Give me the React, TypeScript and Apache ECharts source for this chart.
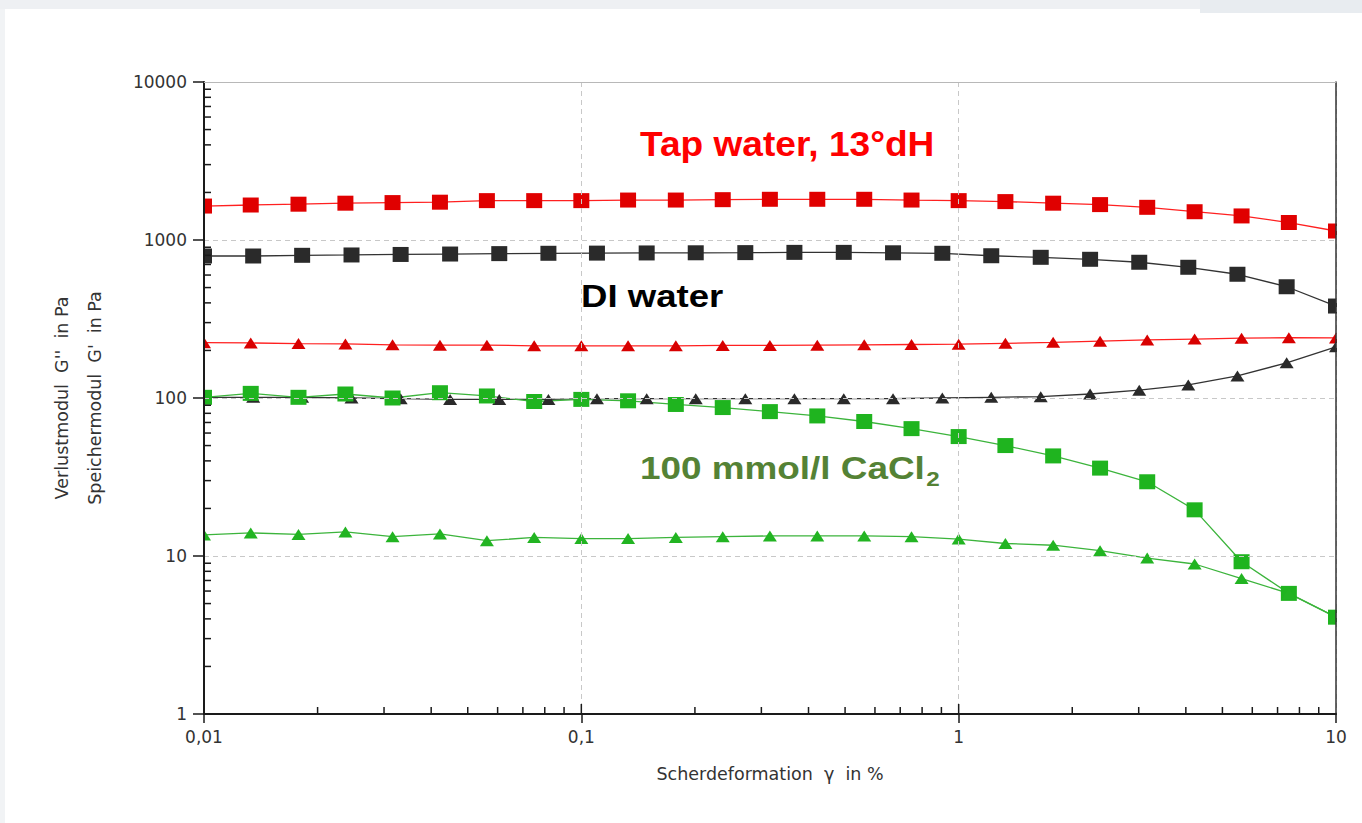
import React, { useEffect, useRef } from "react";
import * as echarts from "echarts";

// strain values (%) – 8 points per decade for tap water and CaCl2 series
const xDense = [0.01, 0.0133, 0.0178, 0.0237, 0.0316, 0.0422, 0.0562, 0.075, 0.1, 0.133, 0.178, 0.237, 0.316, 0.422, 0.562, 0.75, 1, 1.33, 1.78, 2.37, 3.16, 4.22, 5.62, 7.5, 10];
// strain values (%) for DI water series (24 points)
const xDI = [0.01, 0.0135, 0.0182, 0.0246, 0.0332, 0.0449, 0.0606, 0.0818, 0.11, 0.149, 0.201, 0.272, 0.367, 0.496, 0.67, 0.905, 1.22, 1.65, 2.23, 3.01, 4.06, 5.48, 7.4, 10];

// Tap water (red)
const tapStorage = [1640, 1665, 1685, 1710, 1725, 1735, 1775, 1775, 1775, 1790, 1790, 1800, 1810, 1810, 1810, 1790, 1775, 1750, 1710, 1675, 1610, 1510, 1420, 1290, 1140];
const tapLoss = [224, 223, 221, 220, 217, 216, 216, 214, 214, 214, 214, 215, 215, 216, 217, 218, 219, 222, 225, 229, 233, 236, 239, 241, 240];
// DI water (black)
const diStorage = [792, 792, 800, 804, 810, 815, 820, 824, 826, 828, 830, 832, 835, 835, 830, 824, 795, 777, 755, 723, 672, 607, 506, 382];
const diLoss = [101, 101, 101, 100, 99, 98, 98, 98, 99, 99, 99, 99, 99, 99, 99, 100, 101, 102, 106, 112, 121, 138, 167, 211];
// 100 mmol/l CaCl2 (green)
const caStorage = [101, 107, 101, 106, 100, 108, 103, 95, 98, 96, 91, 87, 82, 77, 71, 64, 57, 50, 43, 36, 29.5, 19.6, 9.2, 5.8, 4.1];
const caLoss = [13.6, 14.0, 13.7, 14.2, 13.25, 13.8, 12.5, 13.1, 12.9, 12.9, 13.1, 13.25, 13.4, 13.4, 13.4, 13.25, 12.8, 12.0, 11.7, 10.8, 9.7, 8.9, 7.2, 5.8, 4.1];

// tick labels
const xTickLabels = ["0,01", "0,1", "1", "10"];
const yTickLabels = ["1", "10", "100", "1000", "10000"];
const minorSteps = [2, 3, 4, 5, 6, 7, 8, 9];
const xDecades = [0.01, 0.1, 1];
const yDecades = [1, 10, 100, 1000];
const xInnerMajors = [0.1, 1];

const AXIS_FONT = "DejaVu Sans";
const LABEL_FONT = "Liberation Sans";

function pair(xs: number[], ys: number[]) {
  return xs.map((x, i) => [x, ys[i]]);
}

function lineSeries(name: string, xs: number[], ys: number[], marker: string, line: string, symbol: string, size: number[]) {
  return {
    name,
    type: "line",
    data: pair(xs, ys),
    symbol,
    symbolSize: size,
    showSymbol: true,
    silent: true,
    z: 2,
    lineStyle: { color: line, width: 1.3 },
    itemStyle: { color: marker, borderWidth: 0 },
  };
}

function buildOption() {
  const xMinor = xDecades.flatMap((d) => minorSteps.map((m) => [d * m, 1, 7]));
  const xMajor = xInnerMajors.map((v) => [v, 1, 10]);
  const yMinor = yDecades.flatMap((d) => minorSteps.map((m) => [0.01, d * m, 7]));

  return {
    animation: false,
    backgroundColor: "#ffffff",
    grid: { left: 204, right: 26, top: 82, bottom: 109, outerBoundsMode: "none" },
    xAxis: [
      {
        type: "log",
        min: 0.01,
        max: 10,
        z: 5,
        name: "Scherdeformation  γ  in %",
        nameLocation: "middle",
        nameGap: 51,
        nameTextStyle: { fontFamily: AXIS_FONT, fontSize: 17.5, color: "#333" },
        axisLine: { show: true, lineStyle: { color: "#1a1a1a", width: 2 } },
        axisTick: { show: true, inside: false, length: 9, lineStyle: { color: "#1a1a1a", width: 1.5 } },
        minorTick: { show: false },
        axisLabel: {
          margin: 14,
          fontFamily: AXIS_FONT,
          fontSize: 17,
          color: "#333",
          formatter: (v: number) => xTickLabels[Math.round(Math.log10(v)) + 2] ?? "",
        },
        splitLine: { show: true, lineStyle: { color: "#c8c8c8", type: [5, 4], width: 1 } },
      },
      {
        type: "log",
        min: 0.01,
        max: 10,
        position: "top",
        z: 5,
        axisLine: { show: true, lineStyle: { color: "#b8b8b8", width: 1 } },
        axisTick: { show: false },
        axisLabel: { show: false },
        splitLine: { show: false },
      },
    ],
    yAxis: [
      {
        type: "log",
        min: 1,
        max: 10000,
        z: 5,
        name: "Verlustmodul  G''  in Pa\nSpeichermodul  G'  in Pa",
        nameLocation: "middle",
        nameRotate: 90,
        nameGap: 93,
        nameTextStyle: { fontFamily: AXIS_FONT, fontSize: 17.5, color: "#333", lineHeight: 33 },
        axisLine: { show: true, lineStyle: { color: "#1a1a1a", width: 2 } },
        axisTick: { show: true, inside: false, length: 11, lineStyle: { color: "#1a1a1a", width: 1.5 } },
        axisLabel: {
          margin: 17,
          fontFamily: AXIS_FONT,
          fontSize: 17,
          color: "#333",
          formatter: (v: number) => yTickLabels[Math.round(Math.log10(v))] ?? "",
        },
        splitLine: { show: true, lineStyle: { color: "#c8c8c8", type: [5, 4], width: 1 } },
      },
      {
        type: "log",
        min: 1,
        max: 10000,
        position: "right",
        z: 5,
        axisLine: { show: true, lineStyle: { color: "#333", width: 1.5 } },
        axisTick: { show: false },
        axisLabel: { show: false },
        splitLine: { show: false },
      },
    ],
    graphic: [
      { type: "rect", z: -1, shape: { x: 0, y: 0, width: 1362, height: 9 }, style: { fill: "#eef0f3" } },
      { type: "rect", z: -1, shape: { x: 1200, y: 0, width: 162, height: 13 }, style: { fill: "#e8ecf0" } },
      { type: "rect", z: -1, shape: { x: 0, y: 9, width: 5, height: 814 }, style: { fill: "#f1f3f5" } },
      // cover marker halves outside plot area
      { type: "rect", z: 3, shape: { x: 186, y: 70, width: 17, height: 640 }, style: { fill: "#ffffff" } },
      { type: "rect", z: 3, shape: { x: 1337, y: 70, width: 25, height: 640 }, style: { fill: "#ffffff" } },
      {
        type: "text",
        z: 10,
        x: 640,
        y: 144,
        scaleX: 1.06,
        style: {
          text: "Tap water, 13°dH",
          fill: "#ff0000",
          fontFamily: LABEL_FONT,
          fontWeight: "bold",
          fontSize: 35,
          align: "left",
          verticalAlign: "middle",
        },
      },
      {
        type: "text",
        z: 10,
        x: 581,
        y: 296,
        scaleX: 1.18,
        style: {
          text: "DI water",
          fill: "#000000",
          fontFamily: LABEL_FONT,
          fontWeight: "bold",
          fontSize: 31,
          align: "left",
          verticalAlign: "middle",
        },
      },
      {
        type: "text",
        z: 10,
        x: 640,
        y: 468,
        scaleX: 1.153,
        style: {
          text: "{m|100 mmol/l CaCl}{s|2}",
          align: "left",
          verticalAlign: "middle",
          rich: {
            m: { fill: "#548235", fontFamily: LABEL_FONT, fontWeight: "bold", fontSize: 32, lineHeight: 32 },
            s: { fill: "#548235", fontFamily: LABEL_FONT, fontWeight: "bold", fontSize: 21, padding: [22, 0, 0, 1] },
          },
        },
      },
    ],
    series: [
      lineSeries("Tap water G'", xDense, tapStorage, "#e00000", "#ff2020", "rect", [16, 15]),
      lineSeries("DI water G'", xDI, diStorage, "#2a2a2a", "#333333", "rect", [16, 15]),
      lineSeries("Tap water G''", xDense, tapLoss, "#d80000", "#ff2020", "triangle", [14, 11]),
      lineSeries("DI water G''", xDI, diLoss, "#2a2a2a", "#333333", "triangle", [14, 11]),
      lineSeries("CaCl2 G'", xDense, caStorage, "#1fb41f", "#3cb43c", "rect", [16, 15]),
      lineSeries("CaCl2 G''", xDense, caLoss, "#22b422", "#3cb43c", "triangle", [14, 11]),
      {
        type: "custom",
        coordinateSystem: "cartesian2d",
        silent: true,
        z: 6,
        data: [...xMinor, ...xMajor],
        renderItem: (params: any, api: any) => {
          const p = api.coord([api.value(0), api.value(1)]);
          const len = api.value(2);
          return {
            type: "line",
            shape: { x1: p[0], y1: p[1], x2: p[0], y2: p[1] - len },
            style: { stroke: "#1a1a1a", lineWidth: 1.5 },
          };
        },
      },
      {
        type: "custom",
        coordinateSystem: "cartesian2d",
        silent: true,
        z: 6,
        data: yMinor,
        renderItem: (params: any, api: any) => {
          const p = api.coord([api.value(0), api.value(1)]);
          const len = api.value(2);
          return {
            type: "line",
            shape: { x1: p[0] - 1, y1: p[1], x2: p[0] + len, y2: p[1] },
            style: { stroke: "#1a1a1a", lineWidth: 1.5 },
          };
        },
      },
    ],
  };
}

export default function App() {
  const ref = useRef<HTMLDivElement>(null);
  useEffect(() => {
    if (!ref.current) return;
    const chart = echarts.init(ref.current, null, { renderer: "svg" });
    chart.setOption(buildOption() as any);
    return () => chart.dispose();
  }, []);
  return <div ref={ref} style={{ position: "absolute", left: 0, top: 0, width: 1362, height: 823 }} />;
}
